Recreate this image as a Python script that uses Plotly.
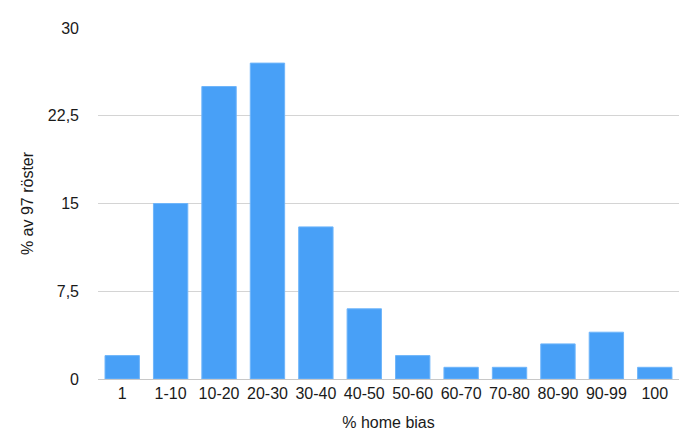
import plotly.graph_objects as go

categories = ["1", "1-10", "10-20", "20-30", "30-40", "40-50", "50-60", "60-70", "70-80", "80-90", "90-99", "100"]
values = [2, 15, 25, 27, 13, 6, 2, 1, 1, 3, 4, 1]
y_ticks = [0, 7.5, 15, 22.5, 30]
y_tick_labels = ["0", "7,5", "15", "22,5", "30"]

fig = go.Figure(go.Bar(
    x=categories, y=values,
    marker=dict(color="#48a0f7", line=dict(color="#6fb5fa", width=1)),
))

fig.update_layout(
    width=682, height=436,
    margin=dict(l=90, r=11, t=20, b=65),
    paper_bgcolor="white", plot_bgcolor="white",
    bargap=0.29,
    font=dict(family="Liberation Sans, Arial, sans-serif", size=16, color="#1a1a1a"),
    showlegend=False,
    xaxis=dict(
        title=dict(text="% home bias", font=dict(size=16), standoff=15),
        showgrid=False, showline=True, linecolor="#c8c8c8", linewidth=1,
        ticks="", tickfont=dict(size=16),
    ),
    yaxis=dict(
        title=dict(text="% av 97 röster", font=dict(size=16), standoff=10),
        range=[0, 30], tickvals=y_ticks, ticktext=y_tick_labels,
        showgrid=True, gridcolor="#d4d4d4", gridwidth=1,
        zeroline=False, ticks="", ticklabelstandoff=18,
        tickfont=dict(size=16),
    ),
)

fig.write_html("out.html")
